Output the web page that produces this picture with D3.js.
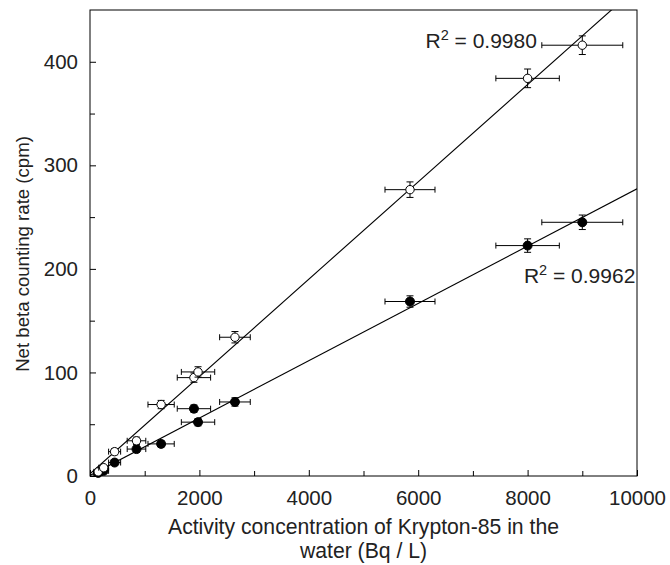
<!DOCTYPE html>
<meta charset="utf-8">
<style>
    body { margin: 0; background: #fff; }
    text { font-family: "Liberation Sans", Arial, sans-serif; fill: #222; }
    .axis path, .axis line { stroke: #000; }
</style>
<svg width="670" height="565"></svg>
<script src="https://d3js.org/d3.v7.min.js"></script>
<script>

    // activity concentration of Kr-85 (Bq/L), shared by both series
    var concentration = [150, 250, 450, 850, 1300, 1900, 1975, 2650, 5850, 8000, 9000];
    var concErr = [80, 90, 110, 170, 240, 305, 305, 280, 457, 580, 740];

    // open circles
    var rateOpen = [4, 8, 23.5, 34, 69, 95, 100.5, 134, 276.5, 384, 416];
    var errOpen = [2, 2, 3, 3.5, 4, 4.5, 5, 5.5, 7.5, 9, 9];

    // filled circles
    var rateFilled = [3, 5, 13, 26, 31, 65, 52, 71.5, 168.5, 222.5, 245];
    var errFilled = [2, 2, 2.5, 3, 3, 3.5, 3.5, 4, 5.5, 6.5, 7];

    var r2Open = "0.9980", r2Filled = "0.9962";

    var xTicks = [0, 2000, 4000, 6000, 8000, 10000];
    var yTicks = [0, 100, 200, 300, 400];

    var svg = d3.select("svg"),
        margin = {top: 10, right: 33, bottom: 89, left: 90},
        width = +svg.attr("width") - margin.left - margin.right,
        height = +svg.attr("height") - margin.top - margin.bottom,
        g = svg.append("g").attr("transform", "translate(" + margin.left + "," + margin.top + ")");

    var x = d3.scaleLinear().domain([0, 10000]).range([0, width]);
    var y = d3.scaleLinear().domain([0, 450]).range([height, 0]);

    // minor ticks
    g.append("g")
        .attr("class", "axis")
        .attr("transform", "translate(0," + height + ")")
        .call(d3.axisBottom(x).tickValues(d3.range(1000, 10000, 2000)).tickSize(-5).tickFormat(""))
        .call(function (a) { a.select(".domain").remove(); });
    g.append("g")
        .attr("class", "axis")
        .call(d3.axisLeft(y).tickValues(d3.range(50, 450, 100)).tickSize(-5).tickFormat(""))
        .call(function (a) { a.select(".domain").remove(); });

    // major ticks
    var xAxis = g.append("g")
        .attr("class", "axis")
        .attr("transform", "translate(0," + height + ")")
        .call(d3.axisBottom(x).tickValues(xTicks).tickSize(-6).tickPadding(14).tickFormat(d3.format("d")));
    xAxis.select(".domain").remove();
    xAxis.selectAll("text").style("font-size", "20.5px").attr("fill", "#222");

    var yAxis = g.append("g")
        .attr("class", "axis")
        .call(d3.axisLeft(y).tickValues(yTicks).tickSize(-6).tickPadding(12));
    yAxis.select(".domain").remove();
    yAxis.selectAll("text").style("font-size", "20.5px").attr("fill", "#222");

    g.append("rect")
        .attr("width", width).attr("height", height)
        .attr("fill", "none").attr("stroke", "#000");

    // regression lines (least squares)
    function fit(xs, ys) {
        var mx = d3.mean(xs), my = d3.mean(ys);
        var sxy = d3.sum(xs, function (v, i) { return (v - mx) * (ys[i] - my); });
        var sxx = d3.sum(xs, function (v) { return (v - mx) * (v - mx); });
        var b = sxy / sxx;
        return {slope: b, intercept: my - b * mx};
    }

    svg.append("clipPath").attr("id", "clip")
        .append("rect").attr("width", width).attr("height", height);

    var lines = g.append("g").attr("clip-path", "url(#clip)");
    [rateOpen, rateFilled].forEach(function (rates) {
        var f = fit(concentration, rates);
        lines.append("line")
            .attr("x1", x(0)).attr("y1", y(f.intercept))
            .attr("x2", x(10000)).attr("y2", y(f.intercept + f.slope * 10000))
            .attr("stroke", "#000").attr("stroke-width", 1.1);
    });

    function drawSeries(rates, errs, filled) {
        var pts = concentration.map(function (c, i) {
            return {x: c, y: rates[i], ex: concErr[i], ey: errs[i]};
        });
        var s = g.append("g").attr("stroke", "#000").attr("stroke-width", 1);
        var p = s.selectAll("g").data(pts).enter().append("g");
        p.append("line")
            .attr("x1", function (d) { return x(d.x - d.ex); })
            .attr("x2", function (d) { return x(d.x + d.ex); })
            .attr("y1", function (d) { return y(d.y); })
            .attr("y2", function (d) { return y(d.y); });
        p.append("line")
            .attr("x1", function (d) { return x(d.x); })
            .attr("x2", function (d) { return x(d.x); })
            .attr("y1", function (d) { return y(d.y - d.ey); })
            .attr("y2", function (d) { return y(d.y + d.ey); });
        [-1, 1].forEach(function (k) {
            p.append("line")
                .attr("x1", function (d) { return x(d.x + k * d.ex); })
                .attr("x2", function (d) { return x(d.x + k * d.ex); })
                .attr("y1", function (d) { return y(d.y) - 3; })
                .attr("y2", function (d) { return y(d.y) + 3; });
            p.append("line")
                .attr("x1", function (d) { return x(d.x) - 3.5; })
                .attr("x2", function (d) { return x(d.x) + 3.5; })
                .attr("y1", function (d) { return y(d.y + k * d.ey); })
                .attr("y2", function (d) { return y(d.y + k * d.ey); });
        });
        p.append("circle")
            .attr("cx", function (d) { return x(d.x); })
            .attr("cy", function (d) { return y(d.y); })
            .attr("r", filled ? 4.5 : 4.2)
            .attr("fill", filled ? "#000" : "#fff");
    }

    drawSeries(rateFilled, errFilled, true);
    drawSeries(rateOpen, errOpen, false);

    function r2Label(xv, yv, val) {
        var t = g.append("text")
            .attr("x", x(xv)).attr("y", y(yv))
            .attr("text-anchor", "end")
            .style("font-size", "21px");
        t.append("tspan").text("R");
        t.append("tspan").attr("dy", -8).style("font-size", "14.5px").text("2");
        t.append("tspan").attr("dy", 8).text(" = " + val);
    }
    r2Label(8170, 413, r2Open);
    r2Label(9970, 186, r2Filled);

    svg.append("text")
        .attr("x", margin.left + width / 2).attr("y", 534)
        .attr("text-anchor", "middle").style("font-size", "21.2px")
        .text("Activity concentration of Krypton-85 in the");
    svg.append("text")
        .attr("x", margin.left + width / 2).attr("y", 558)
        .attr("text-anchor", "middle").style("font-size", "21.2px")
        .text("water (Bq / L)");

    svg.append("text")
        .attr("transform", "translate(29," + 254 + ") rotate(-90)")
        .attr("text-anchor", "middle").style("font-size", "18.6px")
        .text("Net beta counting rate (cpm)");

</script>
